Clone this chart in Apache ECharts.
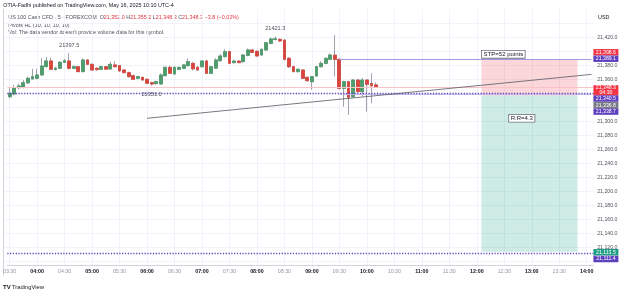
<!DOCTYPE html>
<html>
<head>
<meta charset="utf-8">
<script src="https://cdn.jsdelivr.net/npm/echarts@6/dist/echarts.min.js"></script>
<style>
html,body{margin:0;padding:0;background:#fff;}
#c{width:625px;height:293px;}
</style>
</head>
<body>
<div id="c"></div>
<script>
// ---------- data ----------
const times = [];
for (let m = 3 * 60 + 30; m <= 14 * 60 + 5; m += 5) {
  times.push(String(Math.floor(m / 60)).padStart(2, '0') + ':' + String(m % 60).padStart(2, '0'));
}
const opens = [21335.2,21339,21348,21348.5,21355,21360.5,21361.4,21366.2,21378.1,21386.2,
  21374,21375.7,21384.3,21386.2,21375.7,21378,21371,21387.6,21381.4,21375.7,
  21374.3,21378,21374.8,21380.5,21379.5,21373.3,21369.5,21365.2,21361.4,21362.8,
  21360,21355.2,21353.8,21353.3,21365.2,21377.1,21367.6,21374.3,21375.7,21379.5,
  21382.8,21377,21378,21386.2,21368.5,21376,21386.5,21392.4,21399.5,21383.8,
  21386,21385.2,21394.2,21401.9,21400,21394.7,21401.9,21411.3,21417,21417,
  21416,21390,21378,21371,21373.3,21362.8,21356.6,21364.7,21378,21382.8,
  21388.5,21394.5,21388.5,21347.1,21356.6,21335.1,21359,21342.4,21359,21354,
  21352.0];
const closes = [21340,21348,21350.5,21355.2,21361.4,21363.8,21366.2,21379,21386.2,21374.3,
  21376,21384.3,21386.6,21375.7,21378,21371,21387.6,21381.4,21373.3,21373.8,
  21378.1,21374.5,21381.4,21378,21371.9,21369.5,21363.8,21360,21363.8,21359,
  21354.3,21353.3,21356.7,21366.2,21377.1,21368.6,21377.1,21377,21380.5,21385.2,
  21375,21373.5,21386.2,21368.5,21378,21387.6,21393.3,21399.5,21382.8,21386,
  21383.8,21394.7,21401.9,21398.5,21393.3,21402.8,21412.3,21417.6,21418,21414.8,
  21388.5,21378,21371,21374.3,21361.4,21358,21363.8,21378,21382.8,21390,
  21394.7,21388.5,21347.1,21356.6,21334.3,21359,21342.4,21359,21352.9,21350.8,
  21348.3];
const highs = [21347,21352,21354,21359,21364,21375,21375,21390,21392,21391,
  21378,21386,21389,21397.5,21380,21379,21390,21389,21382.5,21377,
  21379.5,21379,21385,21386,21380.5,21374.5,21371,21366.5,21365,21364,
  21361,21356.5,21358,21368.5,21378.5,21379.5,21378.5,21378.5,21382,21390,
  21385,21379,21387.5,21388,21379,21390,21396,21403,21401,21388,
  21387.5,21396,21404,21403,21401.5,21404,21413.5,21419.5,21421.3,21418.5,
  21417.5,21391.5,21379.5,21375.5,21374,21364,21365,21379,21386,21391,
  21397,21423.3,21390,21358,21358,21360.5,21360,21362,21360,21368.6,
  21355.2];
const lows = [21332.9,21337,21346,21347,21353,21359.5,21360,21365,21377,21373.5,
  21372.5,21374.5,21383.3,21374,21374.5,21370,21370,21380.5,21372,21372.5,
  21373,21373.5,21373.5,21377,21370.5,21368.5,21362.5,21359,21360,21358,
  21353.5,21351,21352.5,21352.5,21364,21367.5,21366.5,21373,21374.5,21378.5,
  21372.5,21372,21377,21367.5,21367.5,21375,21385.5,21391,21382,21382.5,
  21382.8,21384,21393,21397.5,21392,21393.5,21401,21410,21415.5,21413.5,
  21387,21376,21370,21369.5,21360.5,21356.5,21345,21363.5,21377,21381.5,
  21387.5,21364,21345,21321,21309,21334,21340,21335.5,21313.7,21325.7,
  21348.3];

// pivots (time, price, kind)
const pivotTimes = ['04:35', '06:05', '08:20'];
const pivotPrices = [21397.5, 21351.0, 21421.3];
const pivotKinds = ['high', 'low', 'high'];

// levels
const lastPrice = 21348.3;
const dottedLevels = [21340.5, 21111.4];
const stopLevel = 21389.1;
const entryLevel = 21336.8;
const targetLevel = 21113.5;
const lowerPurpleLevel = 21338.7;
const positionStart = '12:05';
const positionEnd = '13:50';
const levelLineStart = '09:30';
const trendStart = ['06:00', 21304.3];
const trendEnd = ['14:05', 21367.0];

// right-axis price tags
const tagValues = [21398.6, 21389.1, 21348.3, 21340.5, 21336.8, 21338.7, 21113.5, 21111.4];
const tagExtra = ['', '', '04:30', '', '', '', '', ''];

// y axis tick labels
const yTickMin = 21120, yTickMax = 21420, yTickStep = 20;

// ---------- styles ----------
const FONT = '"Liberation Sans", Arial, sans-serif';
const UP = '#4f9d6c', DOWN = '#d9453d', WICK = '#a0a3ab';
const PURPLE = '#5e3fbe', RED = '#f23645', GREEN = '#1f9e83', GRAY = '#787b86';
const tagColors = [RED, PURPLE, RED, PURPLE, GRAY, PURPLE, GREEN, PURPLE];
const tagHeights = [6.4, 6.4, 10.2, 6.4, 6.4, 6.4, 6.5, 6.5];
const tagShift = [0, -0.2, 2.8, 5.6, 9.6, 17.4, 0.4, 5.7];

const fmt = v => v.toLocaleString('en-US', {minimumFractionDigits: 1, maximumFractionDigits: 1});

const wickData = opens.map((o, i) => [o, closes[i], lows[i], highs[i]]);
const bodyData = opens.map((o, i) => [o, closes[i], Math.min(o, closes[i]), Math.max(o, closes[i])]);

const lastCat = times[times.length - 1];

const tagPoints = tagValues.map((v, i) => ({
  coord: [lastCat, v],
  symbol: 'rect',
  symbolSize: [25, tagHeights[i]],
  symbolOffset: [14.6, tagShift[i]],
  itemStyle: {color: tagColors[i]},
  label: {
    show: true, position: 'inside', color: '#fff', fontSize: 5.2, fontFamily: FONT,
    lineHeight: 4.8,
    formatter: fmt(v) + (tagExtra[i] ? '\n' + tagExtra[i] : '')
  }
}));

const pivotPoints = pivotTimes.map((t, i) => ({
  coord: [t, pivotPrices[i]],
  symbol: 'circle', symbolSize: 0,
  label: {
    show: true, position: 'inside', offset: [0, pivotKinds[i] === 'high' ? -8 : 9],
    formatter: pivotPrices[i].toFixed(1), color: '#50535e', fontSize: 5.6, fontFamily: FONT
  }
}));

const option = {
  animation: false,
  backgroundColor: '#ffffff',
  grid: [
    {left: 3.4, right: 31.4, top: 9.3, bottom: 28},
    {left: 3.4, right: 31.4, top: 9.3, bottom: 17.7}
  ],
  xAxis: [
    {
      type: 'category', gridIndex: 0, data: times, boundaryGap: true,
      axisLine: {lineStyle: {color: '#d1d4dc', width: 1}},
      axisTick: {show: false},
      axisLabel: {
        interval: 5, margin: 3.8, fontSize: 5.3, fontFamily: FONT,
        formatter: v => v.endsWith(':00') ? '{b|' + v + '}' : '{n|' + v + '}',
        rich: {
          b: {fontSize: 5.3, fontFamily: FONT, color: '#131722', fontWeight: 'bold'},
          n: {fontSize: 5.3, fontFamily: FONT, color: '#9598a1'}
        }
      },
      splitLine: {show: true, interval: 5, alignWithLabel: true, lineStyle: {color: '#f0f3fa', width: 1}}
    },
    {type: 'value', gridIndex: 1, show: false, min: 0, max: 1}
  ],
  yAxis: [
    {type: 'value', gridIndex: 0, min: 21460 - 255.7 / 0.7, max: 21460, show: false, splitLine: {show: false}},
    {
      type: 'value', gridIndex: 1, position: 'right', min: 21080, max: 21460, interval: 20,
      axisLine: {show: true, lineStyle: {color: '#d1d4dc'}},
      axisTick: {show: false},
      axisLabel: {
        margin: 3.6, fontSize: 5.2, fontFamily: FONT, color: '#50535e',
        formatter: v => (v >= yTickMin - 0.01 && v <= yTickMax + 0.01) ? fmt(v) : ''
      },
      splitLine: {show: true, showMinLine: false, showMaxLine: false, lineStyle: {color: '#f0f3fa'}}
    }
  ],
  series: [
    {
      type: 'line', xAxisIndex: 0, yAxisIndex: 0, data: [], silent: true, z: 1,
      markArea: {
        silent: true,
        data: [
          [{coord: [positionStart, stopLevel], itemStyle: {color: 'rgba(242,54,69,0.2)'}}, {coord: [positionEnd, entryLevel]}],
          [{coord: [positionStart, entryLevel], itemStyle: {color: 'rgba(8,153,129,0.2)'}}, {coord: [positionEnd, targetLevel]}]
        ]
      },
      markLine: {
        silent: true, symbol: ['none', 'none'], label: {show: false},
        data: [
          {yAxis: lastPrice, lineStyle: {color: '#f7c5c9', width: 1, type: 'solid'}},
          [{coord: [levelLineStart, lowerPurpleLevel]}, {coord: [lastCat, lowerPurpleLevel], lineStyle: {color: '#c9bdf0', width: 1, type: 'solid'}}],
          [{coord: [levelLineStart, stopLevel]}, {coord: [lastCat, stopLevel], lineStyle: {color: '#a898e0', width: 1, type: 'solid'}}]
        ]
      }
    },
    {
      type: 'candlestick', name: 'wick', xAxisIndex: 0, yAxisIndex: 0, data: wickData, barWidth: 3.3, z: 2,
      itemStyle: {color: WICK, color0: WICK, borderColor: WICK, borderColor0: WICK, borderWidth: 1}
    },
    {
      type: 'candlestick', name: 'body', xAxisIndex: 0, yAxisIndex: 0, data: bodyData, barWidth: 3.3, z: 3,
      itemStyle: {color: UP, color0: DOWN, borderColor: UP, borderColor0: DOWN, borderWidth: 0.8},
      markPoint: {silent: true, data: pivotPoints}
    },
    {
      type: 'line', xAxisIndex: 0, yAxisIndex: 0, data: [], silent: true, z: 4,
      markLine: {
        silent: true, symbol: ['none', 'none'], label: {show: false},
        data: [
          {yAxis: dottedLevels[0], lineStyle: {color: PURPLE, width: 1.3, type: [1.2, 1.6]}},
          {yAxis: dottedLevels[1], lineStyle: {color: PURPLE, width: 1.3, type: [1.2, 1.6]}},
          [{coord: trendStart}, {coord: trendEnd, lineStyle: {color: '#55585f', width: 0.8, type: 'solid'}}]
        ]
      },
      markPoint: {
        silent: true,
        data: [
          {
            coord: [positionStart, stopLevel], symbol: 'circle', symbolSize: 0,
            label: {
              show: true, position: 'inside', offset: [22, -4.6], formatter: 'STP=52 points',
              color: '#131722', fontSize: 6, fontFamily: FONT, backgroundColor: '#fff',
              borderColor: '#6a6d78', borderWidth: 0.8, padding: [0.8, 1.6, 0.2, 1.6]
            }
          },
          {
            coord: ['12:50', 21304.3], symbol: 'circle', symbolSize: 0,
            label: {
              show: true, position: 'inside', offset: [-0.8, 0], formatter: 'R:R=4.3',
              color: '#131722', fontSize: 6, fontFamily: FONT, backgroundColor: '#fff',
              borderColor: '#6a6d78', borderWidth: 0.8, padding: [0.8, 1.6, 0.2, 1.6]
            }
          }
        ]
      }
    },
    {
      type: 'line', xAxisIndex: 0, yAxisIndex: 0, data: [], silent: true, z: 10,
      markPoint: {silent: true, data: tagPoints}
    }
  ],
  graphic: [
    {type: 'text', left: 3.3, top: 3.4, style: {text: 'OTIA-Fadhi published on TradingView.com, May 16, 2025 10:10 UTC-4', fill: '#131722', font: '5.4px ' + FONT}},
    {type: 'text', left: 8.3, top: 15.2, style: {
      text: '{g|US 100 Cash CFD · 5 · FOREXCOM  }{g|O}{r|21,352.0 }{g|H}{r|21,355.2 }{g|L}{r|21,348.3 }{g|C}{r|21,348.3 }{r|−3.8 (−0.02%)}',
      rich: {g: {fill: '#50535e', font: '5.4px ' + FONT}, r: {fill: '#e0333d', font: '5.4px ' + FONT}}
    }},
    {type: 'text', left: 8.3, top: 22.6, style: {text: 'Pivots HL (10, 10, 10, 10)', fill: '#50535e', font: '5.4px ' + FONT}},
    {type: 'text', left: 8.3, top: 30.2, style: {text: "Vol: The data vendor doesn't provide volume data for this symbol.", fill: '#50535e', font: '5.4px ' + FONT}},
    {type: 'text', left: 598, top: 14.8, style: {text: 'USD', fill: '#131722', font: '5.4px ' + FONT}},
    {type: 'text', left: 3, top: 284, style: {text: 'TV', fill: '#131722', font: 'bold 6px ' + FONT}},
    {type: 'text', left: 12, top: 284.3, style: {text: 'TradingView', fill: '#131722', font: '5.8px ' + FONT}}
  ]
};

const chart = echarts.init(document.getElementById('c'), null, {renderer: 'canvas'});
chart.setOption(option);
</script>
</body>
</html>
